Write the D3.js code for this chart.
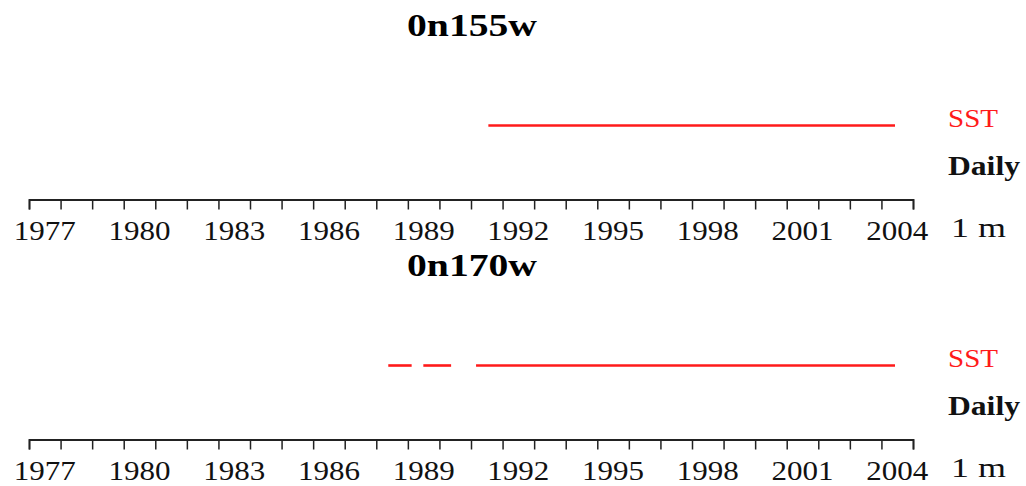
<!DOCTYPE html>
<html>
<head>
<meta charset="utf-8">
<script src="https://cdn.jsdelivr.net/npm/d3@7"></script>
<style>
  html, body { margin: 0; padding: 0; background: #fff; }
  svg { display: block; }
  text { font-family: "Liberation Serif", "DejaVu Serif", serif; }
</style>
</head>
<body>
<svg id="chart" width="1026" height="486"></svg>
<script>
// ---- data ----
const titles = ["0n155w", "0n170w"];
const tickLabels = [1977, 1980, 1983, 1986, 1989, 1992, 1995, 1998, 2001, 2004];
const yearStart = 1977;
const yearEnd = 2005;
const sst155 = [[1991.55, 2004.43]];
const sst170 = [[1988.38, 1989.12], [1989.49, 1990.37], [1991.16, 2004.43]];
const seriesByPanel = [sst155, sst170];
const legendLabels = ["SST", "Daily", "1 m"];

// ---- layout ----
const svg = d3.select("#chart");
const x = d3.scaleLinear().domain([yearStart, yearEnd]).range([29, 913]);
const panelOffset = 240;

titles.forEach((title, i) => {
  const g = svg.append("g").attr("transform", `translate(0,${i * panelOffset})`);

  // title
  g.append("text")
    .attr("x", 407).attr("y", 36)
    .attr("font-size", 31)
    .attr("font-weight", "bold")
    .attr("textLength", 130)
    .attr("lengthAdjust", "spacingAndGlyphs")
    .text(title.replace(/^0/, "0"));

  // series
  g.selectAll("line.sst")
    .data(seriesByPanel[i])
    .join("line")
    .attr("class", "sst")
    .attr("x1", d => x(d[0]))
    .attr("x2", d => x(d[1]))
    .attr("y1", 125.5).attr("y2", 125.5)
    .attr("stroke", "#ff1a1a")
    .attr("stroke-width", 2.6);

  // axis
  const axis = d3.axisBottom(x)
    .tickValues(d3.range(yearStart, yearEnd + 1))
    .tickSize(10)
    .tickSizeOuter(10)
    .tickFormat("");
  const ag = g.append("g").attr("transform", "translate(0,199.5)").call(axis);
  ag.select(".domain").attr("stroke", "#222").attr("stroke-width", 1.8);
  ag.selectAll(".tick line").attr("stroke", "#222").attr("stroke-width", 1.5);

  // tick labels centered mid-year
  g.selectAll("text.yl")
    .data(tickLabels)
    .join("text")
    .attr("class", "yl")
    .attr("x", d => x(d + 0.5))
    .attr("y", 239.5)
    .attr("text-anchor", "middle")
    .attr("font-size", 28)
    .attr("textLength", 62)
    .attr("lengthAdjust", "spacingAndGlyphs")
    .attr("fill", "#111")
    .text(d => d);

  // legend texts
  g.append("text").attr("x", 948).attr("y", 127).attr("font-size", 26)
    .attr("fill", "#ff1a1a").attr("textLength", 50).attr("lengthAdjust", "spacingAndGlyphs")
    .text(legendLabels[0]);
  g.append("text").attr("x", 948).attr("y", 175).attr("font-size", 27)
    .attr("font-weight", "bold").attr("fill", "#111")
    .attr("textLength", 72).attr("lengthAdjust", "spacingAndGlyphs")
    .text(legendLabels[1]);
  g.append("text").attr("x", 951).attr("y", 237).attr("font-size", 27)
    .attr("fill", "#111").attr("textLength", 55).attr("lengthAdjust", "spacingAndGlyphs")
    .text(legendLabels[2]);
});
</script>
</body>
</html>
